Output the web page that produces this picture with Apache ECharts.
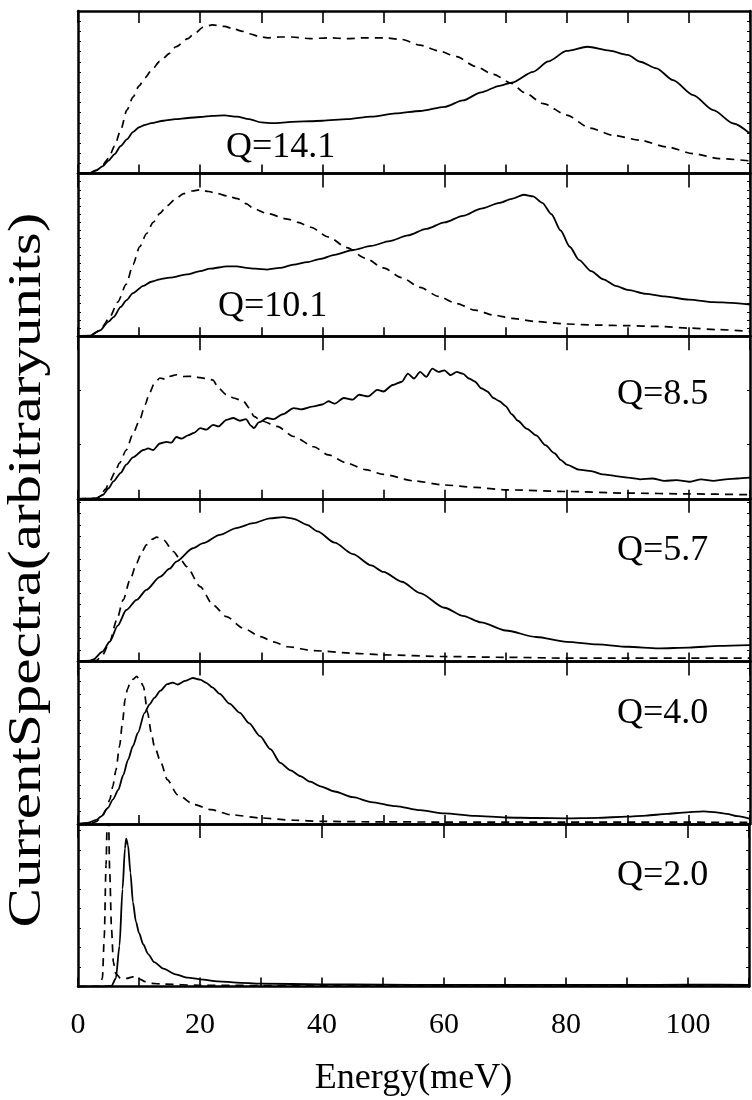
<!DOCTYPE html>
<html><head><meta charset="utf-8">
<script src="https://cdn.jsdelivr.net/npm/echarts@6/dist/echarts.min.js"></script>
<style>html,body{margin:0;padding:0;background:#fff}#c{width:752px;height:1100px}</style>
</head><body><div id="c"></div>
<script>
// ---- data: [energy meV, normalized current] ----
const qLabels = ['Q=14.1','Q=10.1','Q=8.5','Q=5.7','Q=4.0','Q=2.0'];
const xTickLabels = [0,20,40,60,80,100];
const yTitle = 'CurrentSpectra(arbitraryunits)';
const xTitle = 'Energy(meV)';

const q141Solid = [[0,0],[2,0.005],[3,0.02],[4,0.045],[5,0.08],[6,0.12],[7,0.17],[8,0.21],[9,0.255],[10,0.285],[11,0.3],[12,0.31],[14,0.325],[16,0.335],[18,0.342],[20,0.348],[22,0.355],[24,0.358],[26,0.35],[28,0.335],[30,0.315],[32,0.31],[34,0.315],[36,0.32],[38,0.322],[40,0.325],[44,0.335],[48,0.35],[52,0.37],[56,0.385],[60,0.41],[63,0.45],[66,0.5],[69,0.54],[71,0.56],[74.5,0.626],[77,0.69],[80,0.755],[83.4,0.78],[87,0.756],[90,0.73],[92,0.688],[94.7,0.647],[97.4,0.575],[100.7,0.483],[104,0.39],[107.3,0.308],[110,0.246]];
const q141Dash = [[0,0],[2,0.005],[3,0.02],[4,0.05],[5,0.095],[6,0.17],[7,0.27],[8,0.39],[9,0.47],[10,0.54],[11,0.59],[12,0.635],[13.4,0.69],[15,0.74],[16,0.78],[18,0.83],[19,0.86],[20.5,0.9],[22,0.915],[24,0.905],[25.4,0.89],[27,0.875],[28,0.86],[30,0.84],[31,0.835],[33,0.84],[35,0.84],[38,0.83],[41,0.835],[44,0.83],[47,0.835],[50,0.835],[53,0.825],[56,0.79],[59,0.755],[62,0.72],[65,0.66],[68,0.61],[71,0.555],[73,0.5],[76.2,0.43],[80,0.36],[83.8,0.28],[87.6,0.236],[92,0.205],[96.4,0.164],[100.7,0.123],[105,0.092],[110,0.078]];

const q101Solid = [[0,0],[2,0.003],[3.6,0.035],[5,0.09],[5.8,0.117],[7,0.18],[7.9,0.22],[9,0.265],[10.7,0.31],[12,0.335],[13.4,0.35],[15,0.36],[17.8,0.38],[20,0.4],[21.6,0.415],[24.4,0.43],[26,0.43],[27.6,0.42],[29,0.415],[31,0.41],[33,0.42],[35.3,0.44],[37.5,0.455],[39.7,0.476],[42,0.5],[45,0.53],[48,0.555],[51,0.585],[54,0.62],[57,0.66],[60,0.7],[63,0.74],[66,0.785],[69,0.82],[71,0.845],[73,0.87],[74.5,0.86],[76,0.82],[77.5,0.75],[79,0.65],[80.5,0.55],[82,0.47],[84,0.4],[86,0.35],[88,0.31],[90,0.285],[93,0.26],[96,0.245],[100,0.225],[104,0.21],[107,0.205],[110,0.195]];
const q101Dash = [[0,0],[2,0.003],[3,0.025],[4,0.06],[5.2,0.117],[6.5,0.21],[7.9,0.32],[9,0.44],[10.1,0.55],[11.2,0.63],[12.3,0.7],[13.4,0.755],[14.5,0.8],[16,0.845],[17.3,0.877],[18.7,0.893],[20,0.9],[21.4,0.89],[22.8,0.877],[24.5,0.862],[26.1,0.846],[27.5,0.815],[28.8,0.784],[31,0.754],[34.3,0.72],[36,0.7],[38.1,0.67],[41,0.61],[44,0.545],[47,0.48],[50,0.42],[53,0.36],[56,0.3],[59,0.245],[62,0.2],[65,0.16],[68,0.13],[71,0.11],[75,0.09],[80,0.075],[85,0.068],[90,0.065],[95,0.06],[100,0.05],[105,0.04],[110,0.03]];

const q85Solid = [[0,0],[3,0.003],[4.1,0.025],[5,0.065],[5.8,0.107],[7,0.16],[7.9,0.21],[9,0.255],[10.7,0.3],[11.5,0.31],[12.3,0.3],[13.4,0.34],[14.5,0.35],[15.3,0.345],[16.1,0.38],[17,0.37],[18,0.39],[19,0.405],[20,0.435],[21,0.425],[22.1,0.455],[23,0.445],[24.3,0.486],[25.4,0.497],[26.5,0.48],[27.5,0.49],[28.3,0.45],[28.8,0.435],[29.6,0.47],[31,0.497],[32,0.49],[33.5,0.52],[35.3,0.558],[36.5,0.55],[38.6,0.568],[40,0.58],[41,0.6],[42,0.585],[43.5,0.62],[45,0.61],[46,0.64],[47.5,0.63],[49,0.67],[50,0.66],[51.5,0.7],[53,0.72],[54,0.77],[55,0.74],[56,0.78],[57,0.75],[58,0.8],[59,0.78],[60,0.79],[61,0.76],[62,0.78],[63,0.77],[64,0.74],[65,0.72],[66,0.68],[67,0.66],[68,0.62],[69,0.6],[70,0.57],[71,0.52],[72,0.48],[73.5,0.43],[75,0.39],[76.5,0.33],[78,0.28],[79,0.24],[80,0.21],[82,0.18],[84,0.17],[86,0.15],[88,0.14],[90,0.13],[92,0.12],[94,0.125],[96,0.11],[98,0.115],[100,0.105],[102,0.12],[104,0.11],[106,0.12],[108,0.125],[110,0.13]];
const q85Dash = [[0,0],[3,0.003],[3.6,0.015],[4.5,0.06],[5.2,0.106],[6,0.16],[6.8,0.22],[7.9,0.3],[9,0.4],[10.1,0.486],[11,0.58],[11.7,0.65],[12.5,0.71],[13.4,0.743],[14.3,0.735],[15.2,0.755],[16.1,0.763],[17.2,0.752],[18.8,0.753],[20,0.745],[21,0.74],[22.1,0.73],[23,0.68],[24.3,0.64],[25.5,0.62],[27.1,0.6],[28,0.56],[28.8,0.507],[30,0.48],[32.6,0.445],[35.3,0.383],[38.6,0.32],[41,0.27],[44,0.22],[47,0.18],[50,0.15],[55,0.11],[60,0.085],[65,0.07],[70,0.055],[80,0.045],[90,0.035],[100,0.03],[110,0.025]];

const q57Solid = [[0,0],[2,0.005],[2.5,0.012],[4,0.06],[5.2,0.121],[6.5,0.22],[7.9,0.316],[9.6,0.378],[11.2,0.44],[13.4,0.52],[15,0.57],[16.1,0.614],[18.8,0.696],[20.5,0.727],[23.2,0.778],[25.9,0.82],[28.7,0.85],[31.4,0.88],[33.6,0.887],[35.3,0.877],[37.5,0.84],[39.2,0.8],[42,0.73],[45,0.66],[48,0.59],[50,0.55],[53,0.49],[56,0.42],[60,0.33],[63,0.28],[66,0.24],[70,0.19],[75,0.15],[80,0.12],[85,0.105],[90,0.09],[95,0.08],[100,0.085],[105,0.095],[110,0.1]];
const q57Dash = [[0,0],[3,0.005],[4,0.04],[5.2,0.121],[6.3,0.25],[7.4,0.378],[8.5,0.5],[9.6,0.604],[10.4,0.67],[11.2,0.717],[12.1,0.75],[12.9,0.764],[14,0.747],[15.6,0.676],[16.7,0.63],[17.8,0.583],[20,0.46],[22.1,0.347],[24.3,0.275],[27.1,0.203],[29.9,0.152],[32,0.12],[34.3,0.09],[38.6,0.066],[45,0.05],[50,0.04],[60,0.03],[70,0.025],[80,0.02],[90,0.02],[100,0.02],[110,0.02]];

const q40Solid = [[0,0],[1.5,0.006],[3,0.025],[3.8,0.047],[4.9,0.099],[5.7,0.15],[6.6,0.21],[7.4,0.3],[8.2,0.396],[9,0.48],[9.8,0.56],[10.9,0.684],[11.7,0.735],[12.5,0.776],[13.5,0.82],[14.6,0.86],[15.5,0.87],[16.3,0.858],[17.5,0.88],[18.8,0.898],[20,0.888],[21,0.868],[22,0.84],[23.2,0.8],[24.8,0.74],[26.5,0.684],[28,0.62],[29.8,0.54],[31.5,0.46],[33.1,0.376],[34.8,0.33],[36.4,0.294],[38,0.26],[39.7,0.232],[42,0.2],[45,0.165],[48,0.135],[52,0.11],[56,0.085],[60,0.065],[65,0.05],[70,0.04],[75,0.037],[80,0.035],[85,0.038],[89.8,0.045],[93,0.052],[96.4,0.062],[99,0.07],[102.4,0.078],[104.5,0.072],[106.2,0.062],[108,0.048],[110,0.031]];
const q40Dash = [[0,0],[2,0.003],[3,0.015],[4,0.05],[4.6,0.088],[5.2,0.15],[5.7,0.232],[6.2,0.33],[6.8,0.478],[7.3,0.63],[7.7,0.766],[8.1,0.83],[8.5,0.865],[9,0.89],[9.6,0.908],[10.2,0.88],[10.7,0.847],[11.4,0.684],[12,0.56],[12.5,0.478],[13.6,0.376],[14.6,0.273],[16.3,0.18],[19,0.12],[21.8,0.088],[25,0.057],[30,0.037],[35.4,0.023],[39.8,0.016],[50,0.013],[60,0.012],[80,0.012],[100,0.011],[110,0.01]];

const q20Solid = [[0,0],[4,0],[5.5,0.005],[6.2,0.05],[6.8,0.25],[7.3,0.6],[7.7,0.85],[7.9,0.91],[8.2,0.87],[8.6,0.7],[9,0.52],[9.5,0.4],[10,0.33],[10.7,0.26],[11.5,0.2],[12.5,0.15],[14,0.11],[16,0.075],[18,0.055],[20,0.045],[23,0.032],[26,0.025],[30,0.018],[40,0.014],[50,0.012],[60,0.01],[70,0.01],[80,0.01],[90,0.01],[100,0.012],[110,0.01]];
const q20Dash = [[0,0],[3.5,0.003],[4,0.05],[4.3,0.3],[4.6,0.75],[4.8,1.05],[5.0,1.05],[5.2,0.7],[5.5,0.35],[5.8,0.15],[6.2,0.08],[7,0.05],[8,0.05],[9,0.06],[9.6,0.065],[10.2,0.045],[11,0.03],[12,0.02],[14,0.015],[20,0.008],[40,0.005],[110,0.005]];

const solids = [q141Solid,q101Solid,q85Solid,q57Solid,q40Solid,q20Solid];
const dashes = [q141Dash,q101Dash,q85Dash,q57Dash,q40Dash,q20Dash];

// ---- layout ----
const L = 78, W = 672, TOP = 11, PH = 162.6;
const FONT = '"Liberation Serif","Times New Roman",serif';
const yTickInt = [0.0625,0.05,0.333,0.07,0.08,0.12];
const labelPos = [
  {x:226, y:TOP+0*PH+139},
  {x:218, y:TOP+1*PH+135},
  {x:617, y:TOP+2*PH+60},
  {x:617, y:TOP+3*PH+54},
  {x:617, y:TOP+4*PH+54},
  {x:617, y:TOP+5*PH+54}
];

const grid=[], xAxis=[], yAxis=[], series=[], graphic=[];
for (let i=0;i<6;i++){
  grid.push({left:L, width:W, top:TOP+i*PH, height:PH});
  const last = i===5;
  xAxis.push({type:'value', gridIndex:i, min:0, max:110, interval:10, position:'bottom',
    axisLine:{show:true, onZero:false, lineStyle:{color:'#000', width:2.5}},
    axisTick:{show:true, inside:true, length:9, lineStyle:{color:'#000', width:1.6}},
    axisLabel:{show:last, margin:24, color:'#000', fontFamily:FONT, fontSize:30,
      formatter:v=> (xTickLabels.indexOf(v)>=0 ? String(v) : '')},
    splitLine:{show:false},
    name: last?xTitle:'', nameLocation:'middle', nameGap:74,
    nameTextStyle:{color:'#000', fontFamily:FONT, fontSize:36}});
  xAxis.push({type:'value', gridIndex:i, min:0, max:110, interval:(i===0?10:20), position:'top',
    axisLine:{show:true, onZero:false, lineStyle:{color:'#000', width:2.5}},
    axisTick:{show:true, inside:true, length:(i===0?12:14), lineStyle:{color:'#000', width:1.6}},
    axisLabel:{show:false}, splitLine:{show:false}});
  yAxis.push({type:'value', gridIndex:i, min:0, max:1, interval:yTickInt[i], position:'left',
    axisLine:{show:true, onZero:false, lineStyle:{color:'#000', width:2.5}},
    axisTick:{show:true, inside:true, length:3, lineStyle:{color:'#000', width:1}},
    axisLabel:{show:false}, splitLine:{show:false}});
  yAxis.push({type:'value', gridIndex:i, min:0, max:1, interval:yTickInt[i], position:'right',
    axisLine:{show:true, onZero:false, lineStyle:{color:'#000', width:2.5}},
    axisTick:{show:true, inside:true, length:3, lineStyle:{color:'#000', width:1}},
    axisLabel:{show:false}, splitLine:{show:false}});
  series.push({type:'line', xAxisIndex:2*i, yAxisIndex:2*i, data:solids[i], showSymbol:false,
    smooth:0.25, smoothMonotone:'x', clip:true, silent:true,
    lineStyle:{color:'#000', width:1.8, type:'solid'}});
  series.push({type:'line', xAxisIndex:2*i, yAxisIndex:2*i, data:dashes[i], showSymbol:false,
    smooth:0.25, smoothMonotone:'x', clip:true, silent:true,
    lineStyle:{color:'#000', width:1.7, type:[8,6]}});
  const p = labelPos[i];
  graphic.push({type:'text', left:p.x, top:p.y-20, style:{text:qLabels[i], fill:'#000', font:'36px '+FONT}});
}
// y-axis title: fitted to span the same vertical extent as in the reference
const titleFont = '46px ' + FONT;
const cv = document.createElement('canvas').getContext('2d');
cv.font = titleFont;
const tw = cv.measureText(yTitle).width || 560;
const targetLen = 715;
graphic.push({type:'text', rotation:Math.PI/2, x:28, y:570, scaleX: targetLen/tw, scaleY:1,
  style:{text:yTitle, fill:'#000', font:titleFont, align:'center', verticalAlign:'middle'}});

const chart = echarts.init(document.getElementById('c'), null, {renderer:'canvas'});
chart.setOption({animation:false, backgroundColor:'#fff', grid, xAxis, yAxis, series, graphic});
</script></body></html>
